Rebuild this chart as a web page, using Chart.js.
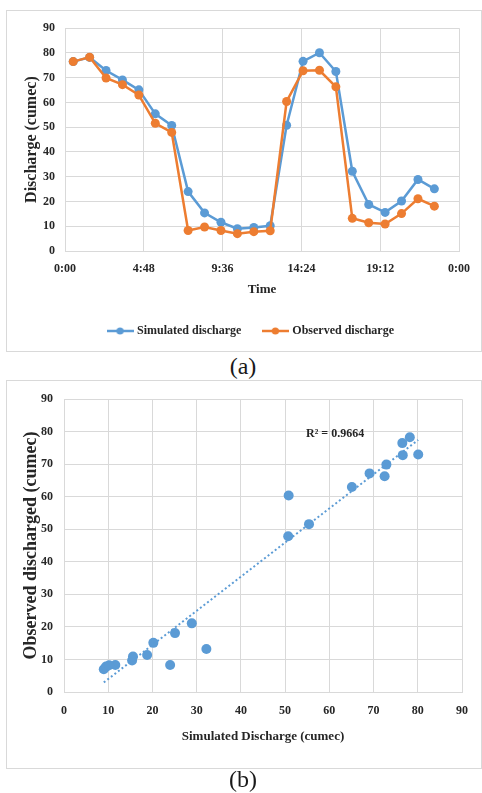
<!DOCTYPE html>
<html>
<head>
<meta charset="utf-8">
<script src="https://cdn.jsdelivr.net/npm/chart.js@4.4.0/dist/chart.umd.min.js"></script>
<style>
  body { margin: 0; background: #fff; width: 482px; height: 793px; position: relative; overflow: hidden; font-family: "Liberation Serif", "Times New Roman", serif; }
  .box { position: absolute; left: 6px; width: 476px; box-sizing: border-box; border: 1px solid #d9d9d9; background: #fff; }
  #boxA { top: 10px; height: 342px; }
  #boxB { top: 380px; height: 389px; }
  .box canvas { display: block; }
  .cap { position: absolute; left: 0; width: 486px; text-align: center; font-size: 24px; line-height: 24px; color: #1a1a1a; }
</style>
</head>
<body>
<div class="box" id="boxA"><canvas id="chartA" width="474" height="340"></canvas></div>
<div class="cap" style="top:354px">(a)</div>
<div class="box" id="boxB"><canvas id="chartB" width="474" height="387"></canvas></div>
<div class="cap" style="top:767px">(b)</div>
<script>
// hourly values (hours from 0:00)
const timeHours = [0.5, 1.5, 2.5, 3.5, 4.5, 5.5, 6.5, 7.5, 8.5, 9.5, 10.5, 11.5, 12.5, 13.5, 14.5, 15.5, 16.5, 17.5, 18.5, 19.5, 20.5, 21.5, 22.5];
const simulated = [76.5, 78.2, 72.9, 69.1, 65.1, 55.4, 50.7, 24.0, 15.4, 11.6, 9.0, 9.5, 10.2, 50.8, 76.6, 80.1, 72.5, 32.2, 18.8, 15.6, 20.2, 28.9, 25.1];
const observed = [76.5, 78.3, 69.9, 67.2, 63.0, 51.6, 47.9, 8.3, 9.7, 8.3, 7.0, 7.8, 8.2, 60.4, 72.8, 73.0, 66.3, 13.2, 11.4, 10.9, 15.1, 21.1, 18.1];
const timeTickValues = [0, 4.8, 9.6, 14.4, 19.2, 24];
const timeTickLabels = ['0:00', '4:48', '9:36', '14:24', '19:12', '0:00'];
const seriesNames = ['Simulated discharge', 'Observed discharge'];
const r2Text = 'R\u00B2 = 0.9664';
const r2At = [61.3, 79.2];

const blue = '#5b9bd5';
const orange = '#ed7d31';
const gridColor = '#d9d9d9';
const textColor = '#262626';
const fontFam = '"Liberation Serif", "Times New Roman", serif';

Chart.defaults.font.family = fontFam;
Chart.defaults.font.weight = 'bold';
Chart.defaults.color = textColor;

function legendMarker(color) {
  const c = document.createElement('canvas');
  c.width = 27;
  c.height = 10;
  const g = c.getContext('2d');
  g.strokeStyle = color;
  g.lineWidth = 2.5;
  g.beginPath();
  g.moveTo(0, 5);
  g.lineTo(27, 5);
  g.stroke();
  g.fillStyle = color;
  g.beginPath();
  g.arc(13.5, 5, 3.6, 0, Math.PI * 2);
  g.fill();
  return c;
}

function fitLine(xs, ys) {
  const n = xs.length;
  let sx = 0, sy = 0, sxx = 0, sxy = 0;
  for (let i = 0; i < n; i++) {
    sx += xs[i]; sy += ys[i];
    sxx += xs[i] * xs[i]; sxy += xs[i] * ys[i];
  }
  const b = (n * sxy - sx * sy) / (n * sxx - sx * sx);
  return { a: (sy - b * sx) / n, b: b };
}

// (a) time series
new Chart(document.getElementById('chartA'), {
  type: 'line',
  data: {
    datasets: [
      {
        label: seriesNames[0],
        data: timeHours.map((t, i) => ({ x: t, y: simulated[i] })),
        borderColor: blue, backgroundColor: blue, pointBackgroundColor: blue,
        borderWidth: 2.5, pointRadius: 4.5, pointBorderWidth: 0, tension: 0, order: 1
      },
      {
        label: seriesNames[1],
        data: timeHours.map((t, i) => ({ x: t, y: observed[i] })),
        borderColor: orange, backgroundColor: orange, pointBackgroundColor: orange,
        borderWidth: 2.5, pointRadius: 4.5, pointBorderWidth: 0, tension: 0, order: 0
      }
    ]
  },
  options: {
    responsive: false,
    animation: false,
    events: [],
    layout: { padding: { left: 33, right: 18, top: 16, bottom: 4 } },
    scales: {
      x: {
        type: 'linear', min: 0, max: 24,
        afterBuildTicks: s => { s.ticks = timeTickValues.map(v => ({ value: v })); },
        afterFit: s => { s.height = 51; },
        ticks: { padding: 11, maxRotation: 0, font: { size: 12, weight: 'bold' }, callback: (v, i) => timeTickLabels[i] },
        grid: { color: gridColor, drawTicks: false },
        border: { color: gridColor },
        title: { display: true, text: 'Time', font: { size: 13, weight: 'bold' }, padding: { top: 0, bottom: 5 } }
      },
      y: {
        min: 0, max: 90,
        afterFit: s => { s.width = 25; },
        ticks: { stepSize: 10, padding: 10, font: { size: 12, weight: 'bold' } },
        grid: { color: gridColor, drawTicks: false },
        border: { color: gridColor },
        title: { display: true, text: 'Discharge (cumec)', font: { size: 16, weight: 'bold' }, padding: { top: -17.6, bottom: 0 } }
      }
    },
    plugins: {
      tooltip: { enabled: false },
      legend: {
        position: 'bottom',
        labels: {
          usePointStyle: true,
          pointStyleWidth: 22,
          padding: 23,
          color: textColor,
          font: { size: 12, weight: 'bold' },
          generateLabels: chart => chart.data.datasets.map((ds, i) => ({
            text: ds.label,
            pointStyle: legendMarker(ds.borderColor),
            fillStyle: ds.borderColor,
            strokeStyle: ds.borderColor,
            lineWidth: 0,
            hidden: false,
            fontColor: textColor,
            datasetIndex: i
          }))
        }
      }
    }
  }
});

// (b) scatter with linear trendline
const fit = fitLine(simulated, observed);
const xLo = Math.min(...simulated);
const xHi = Math.max(...simulated);

const r2Label = {
  id: 'r2Label',
  afterDatasetsDraw(chart) {
    const { ctx, scales } = chart;
    ctx.save();
    ctx.font = 'bold 12px ' + fontFam;
    ctx.fillStyle = textColor;
    ctx.textAlign = 'center';
    ctx.textBaseline = 'middle';
    ctx.fillText(r2Text, scales.x.getPixelForValue(r2At[0]), scales.y.getPixelForValue(r2At[1]));
    ctx.restore();
  }
};

new Chart(document.getElementById('chartB'), {
  type: 'scatter',
  data: {
    datasets: [
      {
        type: 'line',
        label: 'Linear',
        data: [{ x: xLo, y: fit.a + fit.b * xLo }, { x: xHi, y: fit.a + fit.b * xHi }],
        borderColor: blue, borderWidth: 2, borderDash: [2, 2.5], pointRadius: 0, order: 0
      },
      {
        label: 'Observed vs simulated',
        data: simulated.map((s, i) => ({ x: s, y: observed[i] })),
        backgroundColor: blue, borderWidth: 0, pointRadius: 5, order: 1
      }
    ]
  },
  options: {
    responsive: false,
    animation: false,
    events: [],
    layout: { padding: { left: 14, right: 19, top: 18, bottom: 24 } },
    scales: {
      x: {
        type: 'linear', min: 0, max: 90,
        afterFit: s => { s.height = 52; },
        ticks: { stepSize: 10, padding: 12, maxRotation: 0, font: { size: 12, weight: 'bold' } },
        grid: { color: gridColor, drawTicks: false },
        border: { color: gridColor },
        title: { display: true, text: 'Simulated Discharge (cumec)', font: { size: 13, weight: 'bold' }, padding: 0 }
      },
      y: {
        min: 0, max: 90,
        afterFit: s => { s.width = 43; },
        ticks: { stepSize: 10, padding: 11, font: { size: 12, weight: 'bold' } },
        grid: { color: gridColor, drawTicks: false },
        border: { color: gridColor },
        title: { display: true, text: 'Observed discharged (cumec)', font: { size: 18, weight: 'bold' }, padding: 0 }
      }
    },
    plugins: {
      tooltip: { enabled: false },
      legend: { display: false }
    }
  },
  plugins: [r2Label]
});
</script>
</body>
</html>
